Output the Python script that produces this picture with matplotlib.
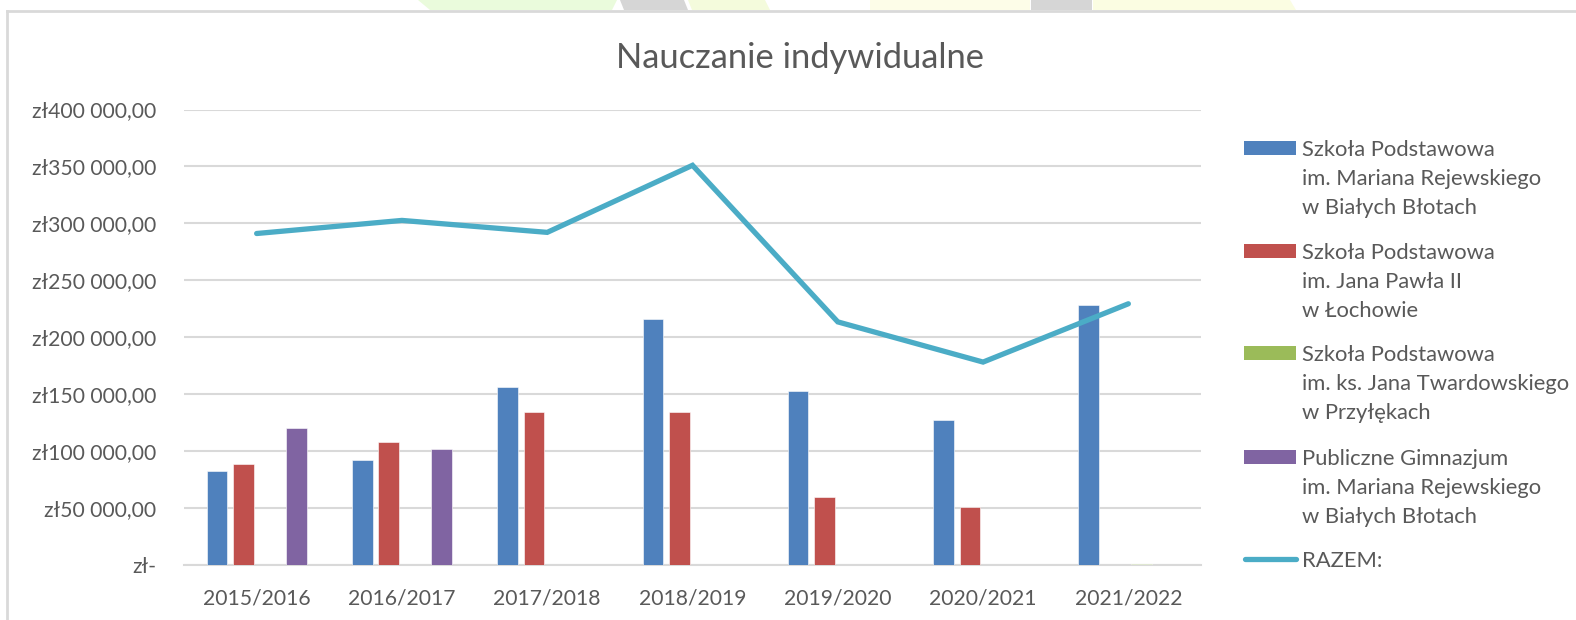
import matplotlib
matplotlib.use("Agg")
import matplotlib.pyplot as plt
from matplotlib.patches import Rectangle, Polygon
from matplotlib.lines import Line2D
from matplotlib.ticker import FuncFormatter, MultipleLocator
import numpy as np

plt.rcParams['font.family'] = ['Lato', 'DejaVu Sans']

# data (PLN)
years = ["2015/2016", "2016/2017", "2017/2018", "2018/2019", "2019/2020", "2020/2021", "2021/2022"]
sp_rejewski = [82200, 92400, 156700, 216100, 152800, 127000, 228300]
sp_lochowo = [88300, 107600, 134500, 134100, 59400, 50500, 0]
sp_przyleki = [0, 0, 0, 0, 0, 0, 600]
gimnazjum = [120400, 101500, 0, 0, 0, 0, 0]
razem = [291100, 302600, 292100, 351000, 213500, 178200, 229400]

labels = [
    "Szkoła Podstawowa\nim. Mariana Rejewskiego\nw Białych Błotach",
    "Szkoła Podstawowa\nim. Jana Pawła II\nw Łochowie",
    "Szkoła Podstawowa\nim. ks. Jana Twardowskiego\nw Przyłękach",
    "Publiczne Gimnazjum\nim. Mariana Rejewskiego\nw Białych Błotach",
]
colors = ["#4f81bd", "#c0504d", "#9bbb59", "#8064a2"]
line_color = "#4bacc6"
text_color = "#595959"
grid_color = "#d9d9d9"

W, H = 1576, 620
fig = plt.figure(figsize=(W / 100, H / 100), dpi=100)


def fx(x):
    return x / W


def fy(y):
    return 1 - y / H


# faint watermark shapes above the chart frame
for pts, c in [
    ([(418, 0), (617, 0), (612, 10), (430, 10)], "#eafbdc"),
    ([(620, 0), (684, 0), (688, 10), (624, 10)], "#d6d6d6"),
    ([(688, 0), (765, 0), (770, 10), (692, 10)], "#f4fbdc"),
    ([(870, 0), (1030, 0), (1030, 10), (870, 10)], "#fdfde8"),
    ([(1031, 0), (1092, 0), (1092, 10), (1031, 10)], "#d6d6d6"),
    ([(1093, 0), (1290, 0), (1296, 10), (1093, 10)], "#fbfde2"),
]:
    fig.add_artist(Polygon([(fx(a), fy(b)) for a, b in pts], closed=True,
                           transform=fig.transFigure, color=c, lw=0))

# chart frame (top and left edges)
fig.add_artist(Line2D([fx(7), 1], [fy(11), fy(11)], transform=fig.transFigure, color=grid_color, lw=2))
fig.add_artist(Line2D([fx(7), fx(7)], [fy(11), 0], transform=fig.transFigure, color=grid_color, lw=2))

ax = fig.add_axes([fx(184), fy(565), fx(1201) - fx(184), fy(109.5) - fy(565)])

x = np.arange(len(years))
step = 0.182
width = 0.142
series = [sp_rejewski, sp_lochowo, sp_przyleki, gimnazjum]
for i, (vals, c) in enumerate(zip(series, colors)):
    ax.bar(x + (i - 1.5) * step, vals, width=width, color=c, edgecolor="white", linewidth=0.4, zorder=3)

ax.plot(x, razem, color=line_color, lw=3.8, solid_capstyle="round", solid_joinstyle="miter", zorder=4)

ax.set_xlim(-0.5, len(years) - 0.5)
ax.set_ylim(0, 400000)
ax.yaxis.set_major_locator(MultipleLocator(50000))


def pln(v, pos):
    if v == 0:
        return "zł-"
    return "zł" + f"{int(v):,}".replace(",", " ") + ",00"


ax.yaxis.set_major_formatter(FuncFormatter(pln))
ax.set_xticks(x)
ax.set_xticklabels(years)
ax.tick_params(axis="y", length=0, labelsize=15.2, labelcolor=text_color, pad=20)
ax.tick_params(axis="x", length=0, labelsize=15.2, labelcolor=text_color, pad=17)
ax.grid(axis="y", color=grid_color, lw=1.5, zorder=0)
for s in ["top", "right", "left"]:
    ax.spines[s].set_visible(False)
ax.spines["bottom"].set_color(grid_color)
ax.spines["bottom"].set_linewidth(1.5)

fig.text(fx(800), fy(58), "Nauczanie indywidualne", ha="center", va="center",
         fontsize=24.8, color=text_color)

# legend drawn by hand so the key sits on the first line of each label
first_line_y = [147.7, 250.7, 353.3, 456.7]
for lab, c, yy in zip(labels, colors, first_line_y):
    fig.add_artist(Rectangle((fx(1244), fy(yy + 7)), fx(1296) - fx(1244), fy(yy - 7) - fy(yy + 7),
                             transform=fig.transFigure, color=c, lw=0))
    for k, part in enumerate(lab.split("\n")):
        fig.text(fx(1302), fy(yy + 29 * k), part, ha="left", va="center_baseline", fontsize=15.8,
                 color=text_color)

fig.add_artist(Line2D([fx(1245), fx(1296)], [fy(559.3), fy(559.3)], transform=fig.transFigure,
                      color=line_color, lw=3.8, solid_capstyle="round"))
fig.text(fx(1302), fy(559.3), "RAZEM:", ha="left", va="center_baseline", fontsize=15.8, color=text_color)

fig.savefig("out.png", dpi=100)
